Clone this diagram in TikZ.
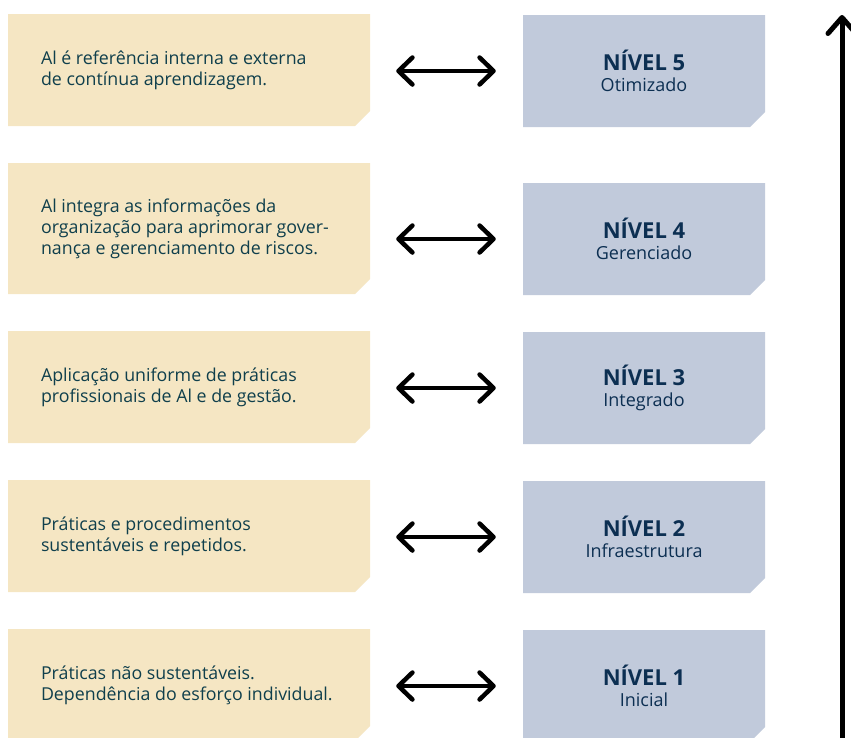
\documentclass[tikz,border=0pt]{standalone}
\usepackage{fontspec}
\setmainfont{Open Sans}
\usetikzlibrary{arrows.meta}
\definecolor{cream}{HTML}{F5E6C3}
\definecolor{steel}{HTML}{C1CADB}
\definecolor{tealtxt}{HTML}{0F3F4C}
\definecolor{navytxt}{HTML}{0C2F52}
\newcommand\chamfill[1]{\fill[#1] (path picture bounding box.north west) -- (path picture bounding box.north east) -- ([yshift=15pt]path picture bounding box.south east) -- ([xshift=-15pt]path picture bounding box.south east) -- (path picture bounding box.south west) -- cycle;}
\tikzset{
  lbox/.style={minimum width=362pt, minimum height=#1, inner sep=0pt, fill=white,
    path picture={\chamfill{cream}}},
  rbox/.style={minimum width=242pt, minimum height=112pt, inner sep=0pt, fill=white,
    path picture={\chamfill{steel}}, align=center, text=navytxt,
    font=\fontsize{18}{20.5}\selectfont},
  ltext/.style={anchor=west, align=left, inner sep=0pt, text=tealtxt,
    font=\fontsize{17.8}{21}\selectfont},
  dbl/.style={line width=4.5pt, line cap=round,
    {Straight Barb[length=14pt,width=27pt,round]}-{Straight Barb[length=14pt,width=27pt,round]},
    shorten <=26pt, shorten >=27pt},
  uparrow/.style={line width=5pt, -{Straight Barb[length=16pt,width=28pt,round]}},
}
\newcommand\lvl[1]{{\fontsize{22}{22}\selectfont\bfseries #1}}
\begin{document}
\begin{tikzpicture}[x=1pt,y=-1pt]
\useasboundingbox (0,0) rectangle (851,737);
% left boxes
\node[lbox=112pt] (L1) at (189,70) {};
\node[lbox=131pt] (L2) at (189,228.5) {};
\node[lbox=112pt] (L3) at (189,387) {};
\node[lbox=112pt] (L4) at (189,536) {};
\node[lbox=112pt] (L5) at (189,685) {};
% right boxes
\node[rbox] (R1) at (644,71) {\lvl{NÍVEL 5}\\Otimizado};
\node[rbox] (R2) at (644,239) {\lvl{NÍVEL 4}\\Gerenciado};
\node[rbox] (R3) at (644,388) {\lvl{NÍVEL 3}\\Integrado};
\node[rbox] (R4) at (644,537) {\lvl{NÍVEL 2}\\Infraestrutura};
\node[rbox] (R5) at (644,686) {\lvl{NÍVEL 1}\\Inicial};
% left texts
\node[ltext] (T1) at ([xshift=33pt]L1.west) {Al é referência interna e externa\\de contínua aprendizagem.};
\node[ltext] (T2) at ([xshift=33pt]L2.west) {Al integra as informações da\\organização para aprimorar gover-\\nança e gerenciamento de riscos.};
\node[ltext] (T3) at ([xshift=33pt]L3.west) {Aplicação uniforme de práticas\\profissionais de Al e de gestão.};
\node[ltext] (T4) at ([xshift=33pt]L4.west) {Práticas e procedimentos\\sustentáveis e repetidos.};
\node[ltext] (T5) at ([xshift=33pt]L5.west) {Práticas não sustentáveis.\\Dependência do esforço individual.};
% double arrows
\draw[dbl] (R1.west -| L1.east) -- (R1.west);
\draw[dbl] (R2.west -| L2.east) -- (R2.west);
\draw[dbl] (R3.west -| L3.east) -- (R3.west);
\draw[dbl] (R4.west -| L4.east) -- (R4.west);
\draw[dbl] (R5.west -| L5.east) -- (R5.west);
% vertical arrow
\coordinate (vbot) at (842,745);
\coordinate (vtop) at (842,15);
\draw[uparrow] (vbot) -- (vtop);
\end{tikzpicture}
\end{document}
